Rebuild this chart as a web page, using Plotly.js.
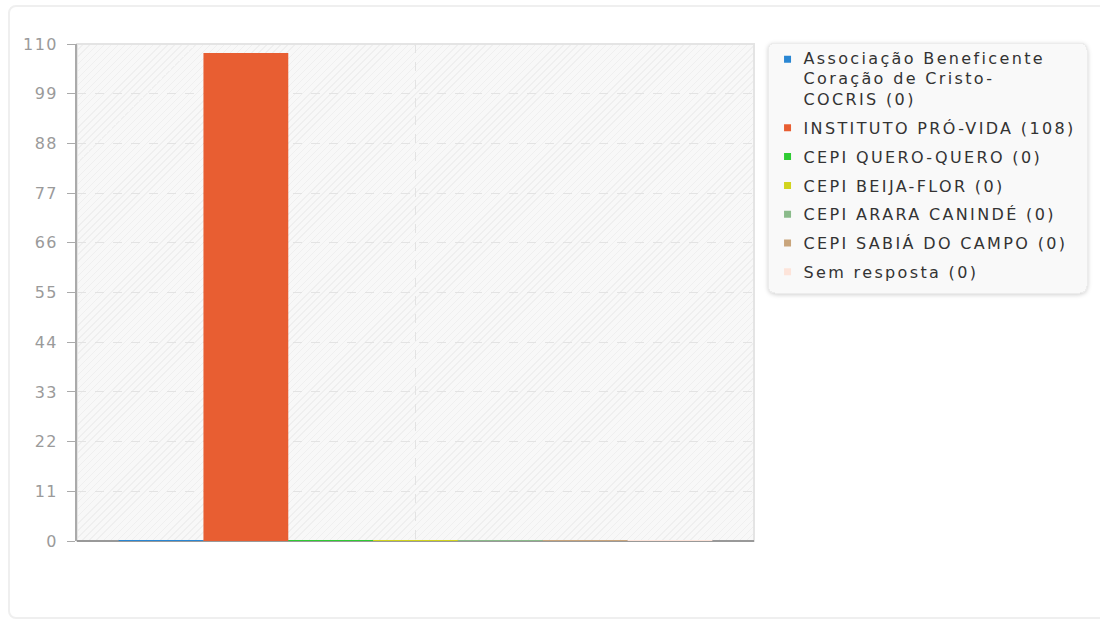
<!DOCTYPE html>
<html>
<head>
<meta charset="utf-8">
<script src="https://cdn.plot.ly/plotly-3.0.1.min.js"></script>
<style>
  html, body { margin: 0; padding: 0; background: #fff; }
  #frame { position: absolute; left: 8px; top: 5px; width: 1200px; height: 614px;
           border: 2px solid #efefef; border-radius: 8px; box-sizing: border-box; }
  #hatch { position: absolute; background-color: #f8f8f8;
           background-image: repeating-linear-gradient(-45deg, rgba(0,0,0,0.035) 0px, rgba(0,0,0,0.035) 1px, transparent 1px, transparent 5px); }
  #chart { position: absolute; left: 0; top: 0; width: 1100px; height: 622px; }
  .legendtext { letter-spacing: 2.35px; transform: translate(-5px, -3px); }
  .legendpoints { transform: translate(-1px, -3px); }
  .legend .groups:first-of-type .legendpoints { transform: translate(-1px, -22px); }
  .ytick text { letter-spacing: 1.4px; }
  .legend .bg { rx: 7px; ry: 7px; filter: drop-shadow(0px 1px 2px rgba(0,0,0,0.18)); }
</style>
</head>
<body>
<div id="frame"></div>
<div id="hatch"></div>
<div id="chart"></div>
<script>
const category = [''];
const seriesNames = [
  'Associação Beneficente<br>Coração de Cristo-<br>COCRIS',
  'INSTITUTO PRÓ-VIDA',
  'CEPI QUERO-QUERO',
  'CEPI BEIJA-FLOR',
  'CEPI ARARA CANINDÉ',
  'CEPI SABIÁ DO CAMPO',
  'Sem resposta'
];
const seriesValues = [0, 108, 0, 0, 0, 0, 0];
const seriesColors = ['#2a87d3', '#e85e32', '#2fcc33', '#d2d41e', '#8bbb8b', '#c9a57c', '#fde4da'];
const yTicks = [0, 11, 22, 33, 44, 55, 66, 77, 88, 99, 110];

const traces = [];
seriesNames.forEach((n, i) => {
  traces.push({
    type: 'bar', x: category, y: [seriesValues[i]], name: n,
    marker: { color: seriesColors[i], line: { color: seriesColors[i], width: seriesValues[i] === 0 ? 2 : 0 } },
    showlegend: false, hoverinfo: 'skip'
  });
});
seriesNames.forEach((n, i) => {
  traces.push({
    type: 'scatter', mode: 'markers', x: [null], y: [null],
    name: n + ' (' + seriesValues[i] + ')', legendgroup: 'g' + i,
    marker: { symbol: 'square', size: 7, color: seriesColors[i] },
    showlegend: true
  });
});

const layout = {
  width: 1100, height: 622,
  margin: { l: 77, r: 346, t: 44, b: 81 },
  paper_bgcolor: 'rgba(0,0,0,0)',
  plot_bgcolor: 'rgba(0,0,0,0)',
  font: { family: 'DejaVu Sans', size: 16, color: '#333' },
  barmode: 'group',
  bargap: 0.123,
  bargroupgap: 0,
  showlegend: true,
  legend: {
    x: 1.02, xanchor: 'left', y: 1.003, yanchor: 'top',
    bgcolor: '#f9f9f9', bordercolor: '#ececec', borderwidth: 1,
    font: { family: 'DejaVu Sans', size: 16, color: '#333' },
    traceorder: 'grouped', tracegroupgap: 5, itemwidth: 30
  },
  xaxis: {
    type: 'category', showticklabels: false, ticks: '',
    showgrid: true, gridcolor: '#e3e3e3', griddash: 'dash', gridwidth: 1,
    showline: false, zeroline: false, fixedrange: true
  },
  yaxis: {
    range: [0, 110], tickvals: yTicks, ticktext: yTicks.map(String),
    showgrid: true, gridcolor: '#e3e3e3', griddash: 'dash', gridwidth: 1,
    showline: true, linecolor: '#aaaaaa', linewidth: 2,
    ticks: 'outside', ticklen: 8, tickcolor: '#aaaaaa', tickwidth: 1,
    tickfont: { family: 'DejaVu Sans', size: 16, color: '#9a9a9a' },
    ticklabelstandoff: 6,
    zeroline: false, fixedrange: true
  },
  shapes: [
    { type: 'rect', xref: 'paper', yref: 'paper', x0: 0, x1: 1, y0: 0, y1: 1,
      line: { color: '#e4e4e4', width: 2 }, layer: 'below' },
    { type: 'line', xref: 'paper', yref: 'paper', x0: 0, x1: 1, y0: 0, y1: 0,
      line: { color: '#999999', width: 2 }, layer: 'below' }
  ]
};

Plotly.newPlot('chart', traces, layout, { displayModeBar: false, staticPlot: true }).then(gd => {
  const s = gd._fullLayout._size;
  const h = document.getElementById('hatch');
  h.style.left = s.l + 'px'; h.style.top = s.t + 'px';
  h.style.width = s.w + 'px'; h.style.height = s.h + 'px';
});
</script>
</body>
</html>
